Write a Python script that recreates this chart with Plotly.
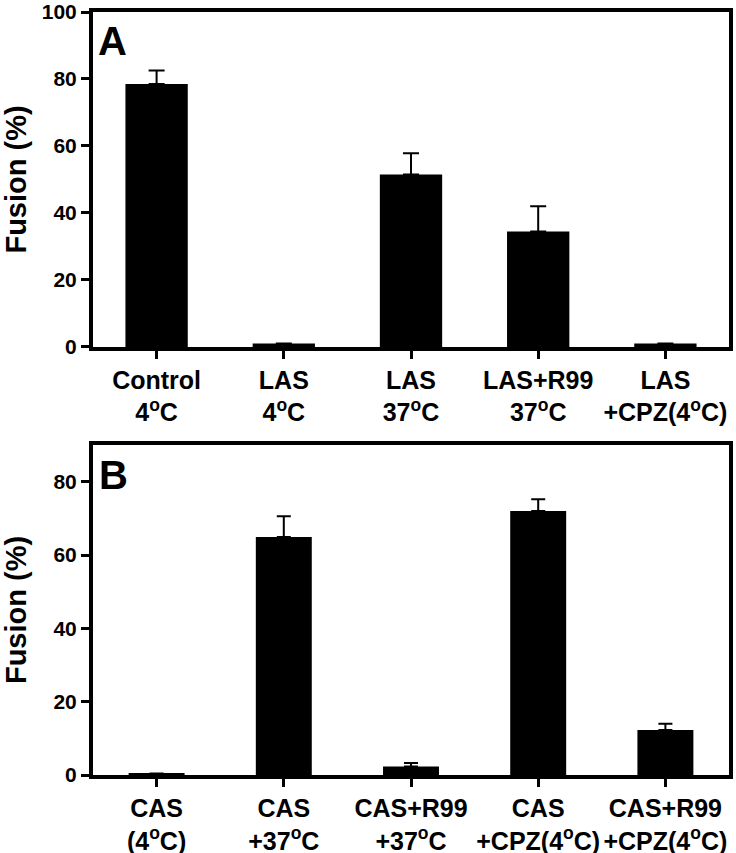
import plotly.graph_objects as go
from plotly.subplots import make_subplots

labels_a = ["Control<br>4<sup>o</sup>C", "LAS<br>4<sup>o</sup>C", "LAS<br>37<sup>o</sup>C",
            "LAS+R99<br>37<sup>o</sup>C", "LAS<br>+CPZ(4<sup>o</sup>C)"]
values_a = [78.5, 1.0, 51.5, 34.5, 1.0]
errors_a = [4.0, 0.0, 6.3, 7.5, 0.0]

labels_b = ["CAS<br>(4<sup>o</sup>C)", "CAS<br>+37<sup>o</sup>C", "CAS+R99<br>+37<sup>o</sup>C",
            "CAS<br>+CPZ(4<sup>o</sup>C)", "CAS+R99<br>+CPZ(4<sup>o</sup>C)"]
values_b = [0.4, 64.9, 2.3, 72.0, 12.3]
errors_b = [0.0, 5.7, 1.0, 3.2, 1.7]

ticks_a = [0, 20, 40, 60, 80, 100]
ticks_b = [0, 20, 40, 60, 80]

FONT = "Arial, Liberation Sans, sans-serif"

fig = make_subplots(rows=2, cols=1)

fig.add_trace(go.Bar(
    x=list(range(len(values_a))), y=values_a, width=0.49,
    marker=dict(color="black", line=dict(width=0)),
    error_y=dict(type="data", array=errors_a, arrayminus=[0]*len(errors_a), symmetric=False,
                 color="black", thickness=2, width=8),
    showlegend=False), row=1, col=1)

fig.add_trace(go.Bar(
    x=list(range(len(values_b))), y=values_b, width=0.44,
    marker=dict(color="black", line=dict(width=0)),
    error_y=dict(type="data", array=errors_b, arrayminus=[0]*len(errors_b), symmetric=False,
                 color="black", thickness=2, width=7),
    showlegend=False), row=2, col=1)

axis_common = dict(showline=True, linecolor="black", linewidth=4, mirror=True,
                   showgrid=False, zeroline=False, ticks="outside", tickcolor="black",
                   tickwidth=3, ticklen=8, automargin=False)

fig.update_xaxes(**axis_common, range=[-0.5, 4.5], tickmode="array",
                 tickfont=dict(family=FONT, size=25, color="black", weight="bold"))
fig.update_xaxes(tickvals=list(range(5)), ticktext=labels_a, row=1, col=1)
fig.update_xaxes(tickvals=list(range(5)), ticktext=labels_b, row=2, col=1)

fig.update_yaxes(**axis_common, tickfont=dict(family=FONT, size=21, color="black", weight="bold"),
                 title=dict(text="Fusion (%)",
                            font=dict(family=FONT, size=29, color="black", weight="bold")))
fig.update_yaxes(range=[0, 100], tickvals=ticks_a, ticktext=[str(t) for t in ticks_a],
                 domain=[0.561, 1.0], title_standoff=12, row=1, col=1)
fig.update_yaxes(range=[0, 90], tickvals=ticks_b, ticktext=[str(t) for t in ticks_b],
                 domain=[0.0, 0.4325], title_standoff=20, row=2, col=1)

fig.add_annotation(text="A", xref="x domain", yref="y domain", x=0.004, y=0.985,
                   xanchor="left", yanchor="top", showarrow=False,
                   font=dict(family=FONT, size=40, color="black", weight="bold"))
fig.add_annotation(text="B", xref="x2 domain", yref="y2 domain", x=0.006, y=0.983,
                   xanchor="left", yanchor="top", showarrow=False,
                   font=dict(family=FONT, size=40, color="black", weight="bold"))

fig.update_layout(width=736, height=853, plot_bgcolor="white", paper_bgcolor="white",
                  margin=dict(l=93, r=7, t=12, b=78, autoexpand=False), bargap=0.5)

fig.write_html("out.html", config={"displayModeBar": False},
               post_script="document.body.style.margin='0';document.body.style.overflow='hidden';")
